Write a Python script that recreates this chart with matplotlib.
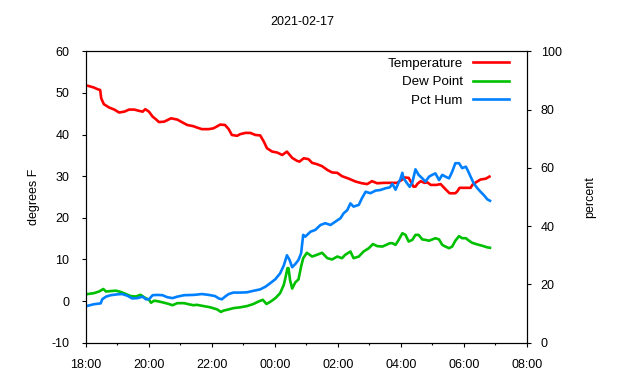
import matplotlib
matplotlib.use("Agg")
import matplotlib.pyplot as plt
from matplotlib.ticker import MultipleLocator, FixedLocator

plt.rcParams['font.family'] = ['Liberation Sans', 'DejaVu Sans']
plt.rcParams['axes.unicode_minus'] = False

title = "2021-02-17"
x_tick_labels = ["18:00", "20:00", "22:00", "00:00", "02:00", "04:00", "06:00", "08:00"]

# minutes after 18:00
temp_t = [4, 15, 22, 27, 29, 34, 44, 54, 63, 73, 82, 92, 101, 108, 113, 120, 127, 133, 139, 149,
          162, 174, 184, 193, 205, 211, 221, 234, 243, 256, 265, 272, 278, 288, 294, 304, 313, 323,
          332, 339, 345, 355, 364, 374, 383, 393, 402, 407, 415, 424, 431, 440, 450, 460, 469, 479,
          488, 501, 514, 526, 536, 545, 555, 568, 580, 593, 603, 606, 615, 620, 624, 628, 632, 638,
          645, 651, 657, 668, 676, 682, 685, 693, 704, 708, 712, 733, 737, 743, 752, 762, 769]
temp_v = [51.7, 51.3, 50.9, 50.7, 48.7, 47.3, 46.5, 46.0, 45.3, 45.5, 46.0, 46.0, 45.7, 45.5, 46.1,
          45.5, 44.3, 43.7, 43.0, 43.1, 43.9, 43.6, 42.9, 42.3, 42.0, 41.7, 41.3, 41.3, 41.5, 42.4,
          42.3, 41.3, 39.9, 39.7, 40.1, 40.4, 40.4, 39.9, 39.8, 38.3, 36.7, 35.9, 35.7, 35.1, 35.9,
          34.4, 33.7, 33.5, 34.3, 34.1, 33.2, 32.9, 32.4, 31.5, 30.9, 30.8, 30.0, 29.4, 28.7, 28.3,
          28.1, 28.8, 28.3, 28.4, 28.4, 28.4, 29.2, 29.7, 29.6, 28.5, 27.5, 27.5, 28.2, 28.8, 28.4,
          28.5, 27.9, 27.9, 28.1, 27.3, 26.9, 25.9, 25.9, 26.4, 27.2, 27.2, 28.0, 28.5, 29.2, 29.4,
          29.9]

dew_t = [4, 15, 25, 33, 38, 47, 57, 66, 76, 85, 95, 104, 111, 120, 124, 130, 139, 149, 158, 165,
         174, 187, 197, 205, 211, 224, 237, 250, 257, 262, 272, 281, 294, 307, 319, 329, 337, 344,
         351, 361, 370, 377, 380, 384, 386, 389, 393, 399, 405, 410, 414, 421, 431, 440, 450, 460,
         469, 479, 488, 494, 504, 510, 520, 529, 539, 547, 555, 565, 574, 579, 584, 590, 596, 603,
         609, 615, 622, 628, 634, 641, 647, 654, 660, 666, 673, 679, 685, 692, 698, 704, 711, 717,
         724, 730, 736, 746, 755, 765, 770]
dew_v = [1.7, 1.9, 2.3, 2.9, 2.3, 2.4, 2.5, 2.2, 1.7, 1.2, 1.1, 1.5, 0.9, 0.3, -0.4, 0.1, -0.1,
         -0.4, -0.7, -1.0, -0.5, -0.5, -0.8, -1.0, -0.9, -1.2, -1.5, -2.0, -2.6, -2.3, -2.0, -1.7,
         -1.5, -1.2, -0.7, -0.1, 0.3, -0.7, -0.2, 0.7, 1.9, 3.9, 5.5, 7.9, 7.9, 5.0, 3.0, 4.5, 5.2,
         8.3, 10.3, 11.6, 10.7, 11.1, 11.6, 10.3, 10.0, 10.7, 10.3, 11.1, 11.9, 10.3, 10.7, 11.9,
         12.7, 13.7, 13.2, 13.1, 13.6, 13.9, 13.9, 13.5, 14.7, 16.3, 15.9, 14.3, 14.7, 15.9, 15.9,
         14.8, 14.7, 14.5, 14.8, 15.1, 14.8, 13.5, 13.1, 12.7, 13.1, 14.5, 15.6, 15.1, 15.1, 14.5,
         14.0, 13.6, 13.3, 12.9, 12.8]

hum_t = [4, 15, 28, 31, 38, 47, 60, 69, 79, 88, 98, 108, 114, 120, 127, 136, 146, 155, 165, 174,
         187, 205, 211, 221, 234, 246, 253, 259, 265, 272, 281, 294, 307, 319, 332, 342, 351, 361,
         370, 377, 383, 388, 393, 399, 405, 410, 414, 418, 428, 437, 447, 456, 466, 475, 485, 491,
         498, 504, 510, 520, 526, 533, 542, 552, 561, 571, 579, 584, 590, 596, 599, 603, 605, 612,
         617, 622, 628, 634, 641, 647, 654, 660, 666, 673, 679, 685, 692, 698, 704, 711, 717, 724,
         728, 733, 739, 746, 752, 758, 765, 770]
hum_v = [12.7, 13.2, 13.5, 14.9, 15.8, 16.3, 16.6, 16.7, 16.1, 15.2, 15.3, 15.8, 14.9, 14.9, 16.3,
         16.4, 16.3, 15.6, 15.3, 15.8, 16.3, 16.4, 16.5, 16.7, 16.4, 16.0, 15.2, 14.9, 15.8, 16.7,
         17.2, 17.2, 17.3, 17.8, 18.3, 19.2, 20.4, 21.8, 23.8, 26.5, 30.0, 28.4, 25.9, 27.0, 28.4,
         30.7, 37.0, 36.4, 38.1, 38.7, 40.4, 41.0, 40.4, 41.5, 42.7, 44.4, 45.5, 47.8, 46.7, 47.3,
         49.6, 51.8, 51.3, 52.2, 52.4, 53.0, 53.3, 54.5, 52.5, 55.0, 56.0, 58.3, 56.5, 54.7, 53.5,
         55.0, 59.5, 57.6, 56.4, 55.3, 57.0, 57.6, 58.1, 55.8, 57.6, 57.0, 56.4, 58.7, 61.6, 61.6,
         59.9, 60.4, 59.0, 57.0, 54.7, 53.0, 51.8, 50.7, 49.2, 48.7]

fig = plt.figure(figsize=(6.4, 3.8), dpi=100)
ax = fig.add_axes([86 / 640, 37.3 / 380, 440.7 / 640, 291.4 / 380])
ax2 = ax.twinx()

red, green, blue = "#ff0000", "#00c000", "#0080ff"
lw = 1.9
l1, = ax.plot(temp_t, temp_v, color=red, lw=lw, label="Temperature")
l2, = ax.plot(dew_t, dew_v, color=green, lw=lw, label="Dew Point")
l3, = ax2.plot(hum_t, hum_v, color=blue, lw=lw, label="Pct Hum")

ax.set_xlim(0, 840)
ax.set_ylim(-10, 60)
ax2.set_ylim(0, 100)
ax.xaxis.set_major_locator(FixedLocator([i * 120 for i in range(len(x_tick_labels))]))
ax.set_xticklabels(x_tick_labels)
ax.xaxis.set_minor_locator(MultipleLocator(60))
ax.yaxis.set_major_locator(MultipleLocator(10))
ax2.yaxis.set_major_locator(MultipleLocator(20))

fs = 9
for a in (ax, ax2):
    a.tick_params(which='major', direction='out', length=3, width=0.8, labelsize=fs, pad=9)
    a.tick_params(which='minor', direction='out', length=1.5, width=0.8)
    for s in a.spines.values():
        s.set_linewidth(0.8)
ax.tick_params(axis='x', pad=9)
ax2.tick_params(axis='y', pad=7)

ax.set_ylabel("degrees F", fontsize=fs, labelpad=8)
ax2.set_ylabel("percent", fontsize=fs, labelpad=16)
fig.suptitle(title, fontsize=fs, x=302 / 640, y=1 - 22 / 380, va='center')

leg = ax.legend(handles=[l1, l2, l3], loc='upper right', frameon=False, markerfirst=False,
                fontsize=9.6, handlelength=2.7, handletextpad=0.75, labelspacing=0.45,
                bbox_to_anchor=(0.98, 1.01), borderaxespad=0.3)

fig.savefig("out.png", dpi=100)
